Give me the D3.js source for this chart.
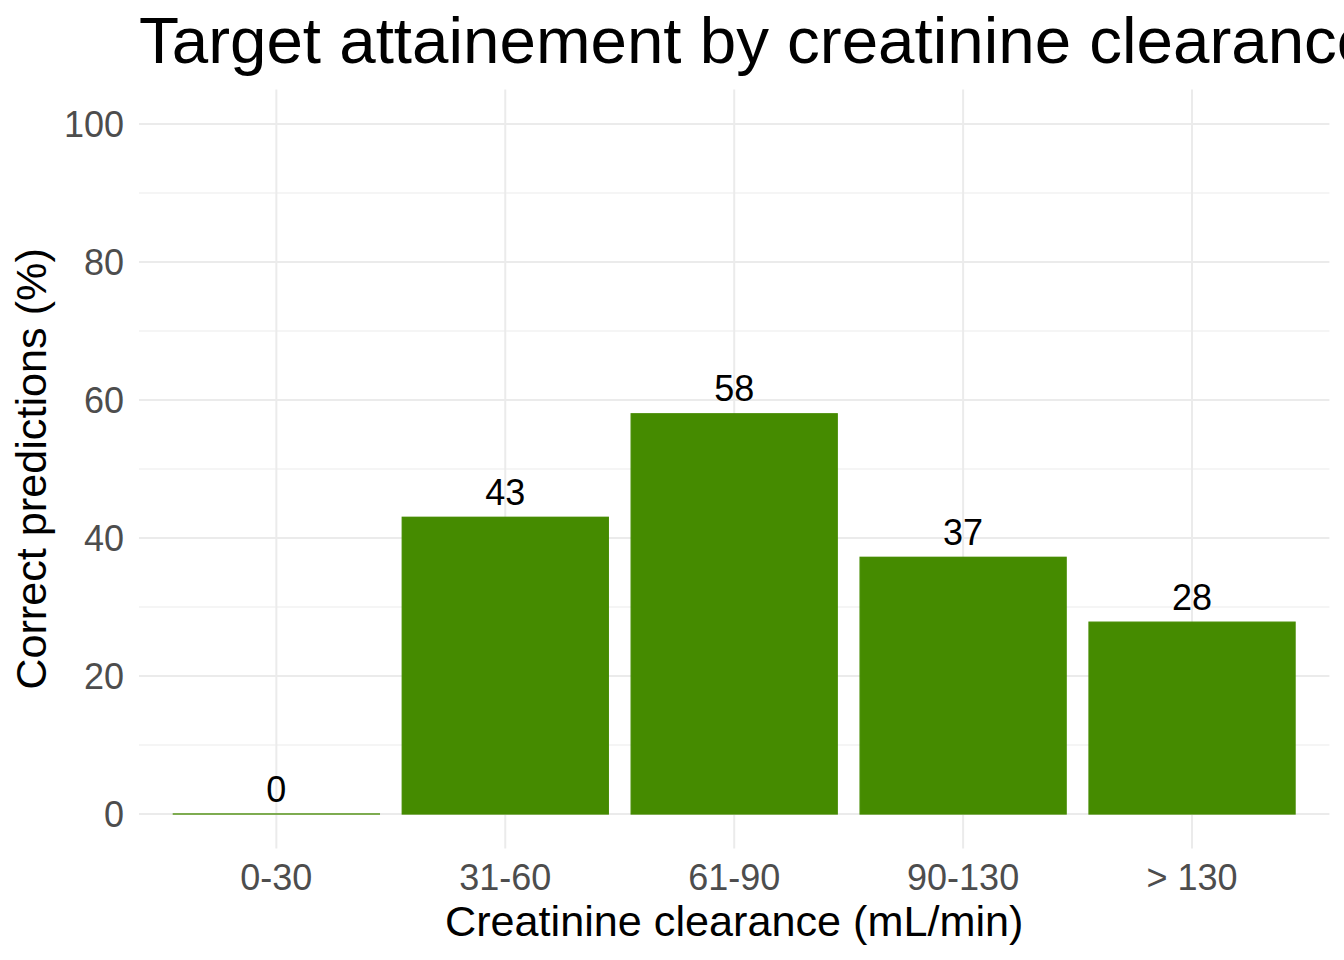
<!DOCTYPE html>
<html>
<head>
<meta charset="utf-8">
<script src="https://cdn.jsdelivr.net/npm/d3@7"></script>
<style>
  html, body { margin: 0; padding: 0; background: #fff; overflow: hidden; }
  text { font-family: "Liberation Sans", Arial, sans-serif; }
</style>
</head>
<body>
<svg id="chart" width="1344" height="960"></svg>
<script>
const categories = ["0-30", "31-60", "61-90", "90-130", "> 130"];
const values = [0, 43, 58, 37.2, 27.8];
const valueLabels = ["0", "43", "58", "37", "28"];
const yTicks = [0, 20, 40, 60, 80, 100];
const yMinor = [10, 30, 50, 70, 90];
const title = "Target attainement by creatinine clearance";
const xTitle = "Creatinine clearance (mL/min)";
const yTitle = "Correct predictions (%)";

const svg = d3.select("#chart");
const panel = { left: 139, right: 1329.4, top: 89.5, bottom: 848.5 };
const barColor = "#458B00";
const gridColor = "#EBEBEB";

// discrete scale with ggplot-like 0.6 expansion
const step = (panel.right - panel.left) / (categories.length - 1 + 1.2);
const x = d3.scalePoint().domain(categories)
  .range([panel.left + 0.6 * step, panel.right - 0.6 * step]);
const y = d3.scaleLinear().domain([-5, 105]).range([panel.bottom, panel.top]);

const g = svg.append("g");

// minor grid
g.selectAll(".minor").data(yMinor).join("line")
  .attr("x1", panel.left).attr("x2", panel.right)
  .attr("y1", d => y(d)).attr("y2", d => y(d))
  .attr("stroke", gridColor).attr("stroke-width", 1);

// major grid
g.selectAll(".majorY").data(yTicks).join("line")
  .attr("x1", panel.left).attr("x2", panel.right)
  .attr("y1", d => y(d)).attr("y2", d => y(d))
  .attr("stroke", gridColor).attr("stroke-width", 2);
g.selectAll(".majorX").data(categories).join("line")
  .attr("x1", d => x(d)).attr("x2", d => x(d))
  .attr("y1", panel.top).attr("y2", panel.bottom)
  .attr("stroke", gridColor).attr("stroke-width", 2);

// bars
const bw = step * 0.9;
g.selectAll(".bar").data(values).join("rect")
  .attr("x", (d, i) => x(categories[i]) - bw / 2)
  .attr("width", bw)
  .attr("y", d => y(d) - (d === 0 ? 0.01 : 0))
  .attr("height", d => Math.max(y(0) - y(d), 0.01))
  .attr("fill", barColor)
  .attr("stroke", barColor)
  .attr("stroke-width", 1.3);

// bar labels
g.selectAll(".lab").data(values).join("text")
  .attr("x", (d, i) => x(categories[i]))
  .attr("y", d => y(d) - 12.5)
  .attr("text-anchor", "middle")
  .attr("font-size", 36)
  .attr("fill", "#000")
  .text((d, i) => valueLabels[i]);

// y tick labels
g.selectAll(".ytick").data(yTicks).join("text")
  .attr("x", 124)
  .attr("y", d => y(d))
  .attr("dy", "0.36em")
  .attr("text-anchor", "end")
  .attr("font-size", 36)
  .attr("fill", "#4D4D4D")
  .text(d => d);

// x tick labels
g.selectAll(".xtick").data(categories).join("text")
  .attr("x", d => x(d))
  .attr("y", 890)
  .attr("text-anchor", "middle")
  .attr("font-size", 36)
  .attr("fill", "#4D4D4D")
  .text(d => d);

// axis titles
svg.append("text")
  .attr("x", (panel.left + panel.right) / 2)
  .attr("y", 936)
  .attr("text-anchor", "middle")
  .attr("font-size", 43.2)
  .attr("fill", "#000")
  .text(xTitle);

svg.append("text")
  .attr("transform", `translate(46, ${(panel.top + panel.bottom) / 2}) rotate(-90)`)
  .attr("text-anchor", "middle")
  .attr("font-size", 43.2)
  .attr("fill", "#000")
  .text(yTitle);

// title
svg.append("text")
  .attr("x", 139)
  .attr("y", 63)
  .attr("font-size", 65.5)
  .attr("fill", "#000")
  .text(title);
</script>
</body>
</html>
